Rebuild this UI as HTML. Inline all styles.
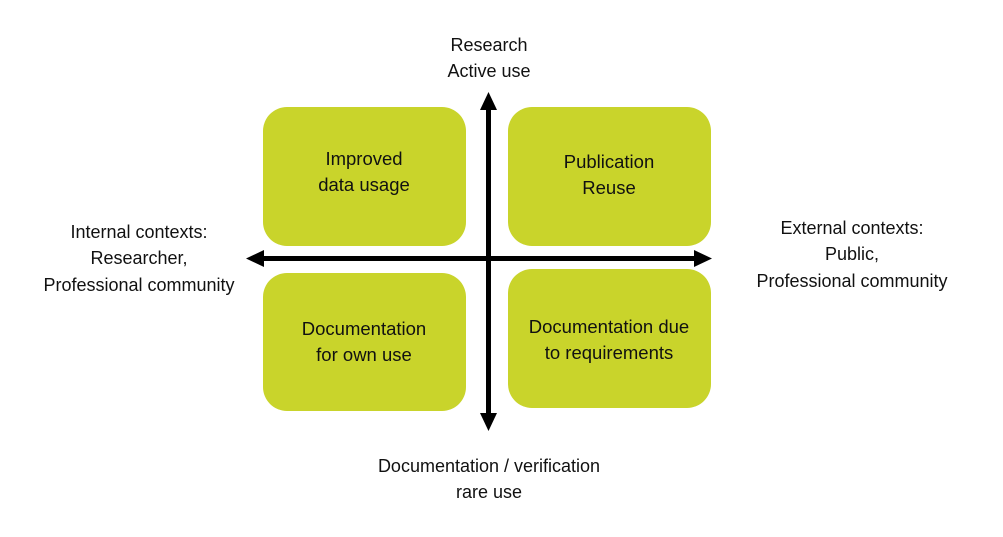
<!DOCTYPE html>
<html><head><meta charset="utf-8"><style>
html,body{margin:0;padding:0;background:#fff;}
svg{display:block;}
text{font-family:"Liberation Sans",sans-serif;font-size:18px;fill:#111;text-anchor:middle;}
.b{font-size:18.5px;}
</style></head><body>
<svg width="1003" height="537" viewBox="0 0 1003 537">
<rect x="0" y="0" width="1003" height="537" fill="#fff"/>
<g fill="#c9d42b">
<rect x="263" y="107" width="203" height="139" rx="24"/>
<rect x="508" y="107" width="203" height="139" rx="24"/>
<rect x="263" y="273" width="203" height="138" rx="24"/>
<rect x="508" y="269" width="203" height="139" rx="24"/>
</g>
<g fill="#000">
<rect x="486" y="108" width="5" height="308"/>
<polygon points="488.5,92 480,110 497,110"/>
<polygon points="488.5,431 480,413 497,413"/>
<rect x="262" y="256" width="434" height="5"/>
<polygon points="246,258.5 264,250 264,267"/>
<polygon points="712,258.5 694,250 694,267"/>
</g>
<text class="b" x="364" y="165">Improved</text>
<text class="b" x="364" y="191">data usage</text>
<text class="b" x="609" y="168">Publication</text>
<text class="b" x="609" y="194">Reuse</text>
<text class="b" x="364" y="335">Documentation</text>
<text class="b" x="364" y="361">for own use</text>
<text class="b" x="609" y="333">Documentation due</text>
<text class="b" x="609" y="359">to requirements</text>
<text x="489" y="51">Research</text>
<text x="489" y="77">Active use</text>
<text x="139" y="238">Internal contexts:</text>
<text x="139" y="264">Researcher,</text>
<text x="139" y="291">Professional community</text>
<text x="852" y="234">External contexts:</text>
<text x="852" y="260">Public,</text>
<text x="852" y="287">Professional community</text>
<text x="489" y="472">Documentation / verification</text>
<text x="489" y="498">rare use</text>
</svg>
</body></html>
